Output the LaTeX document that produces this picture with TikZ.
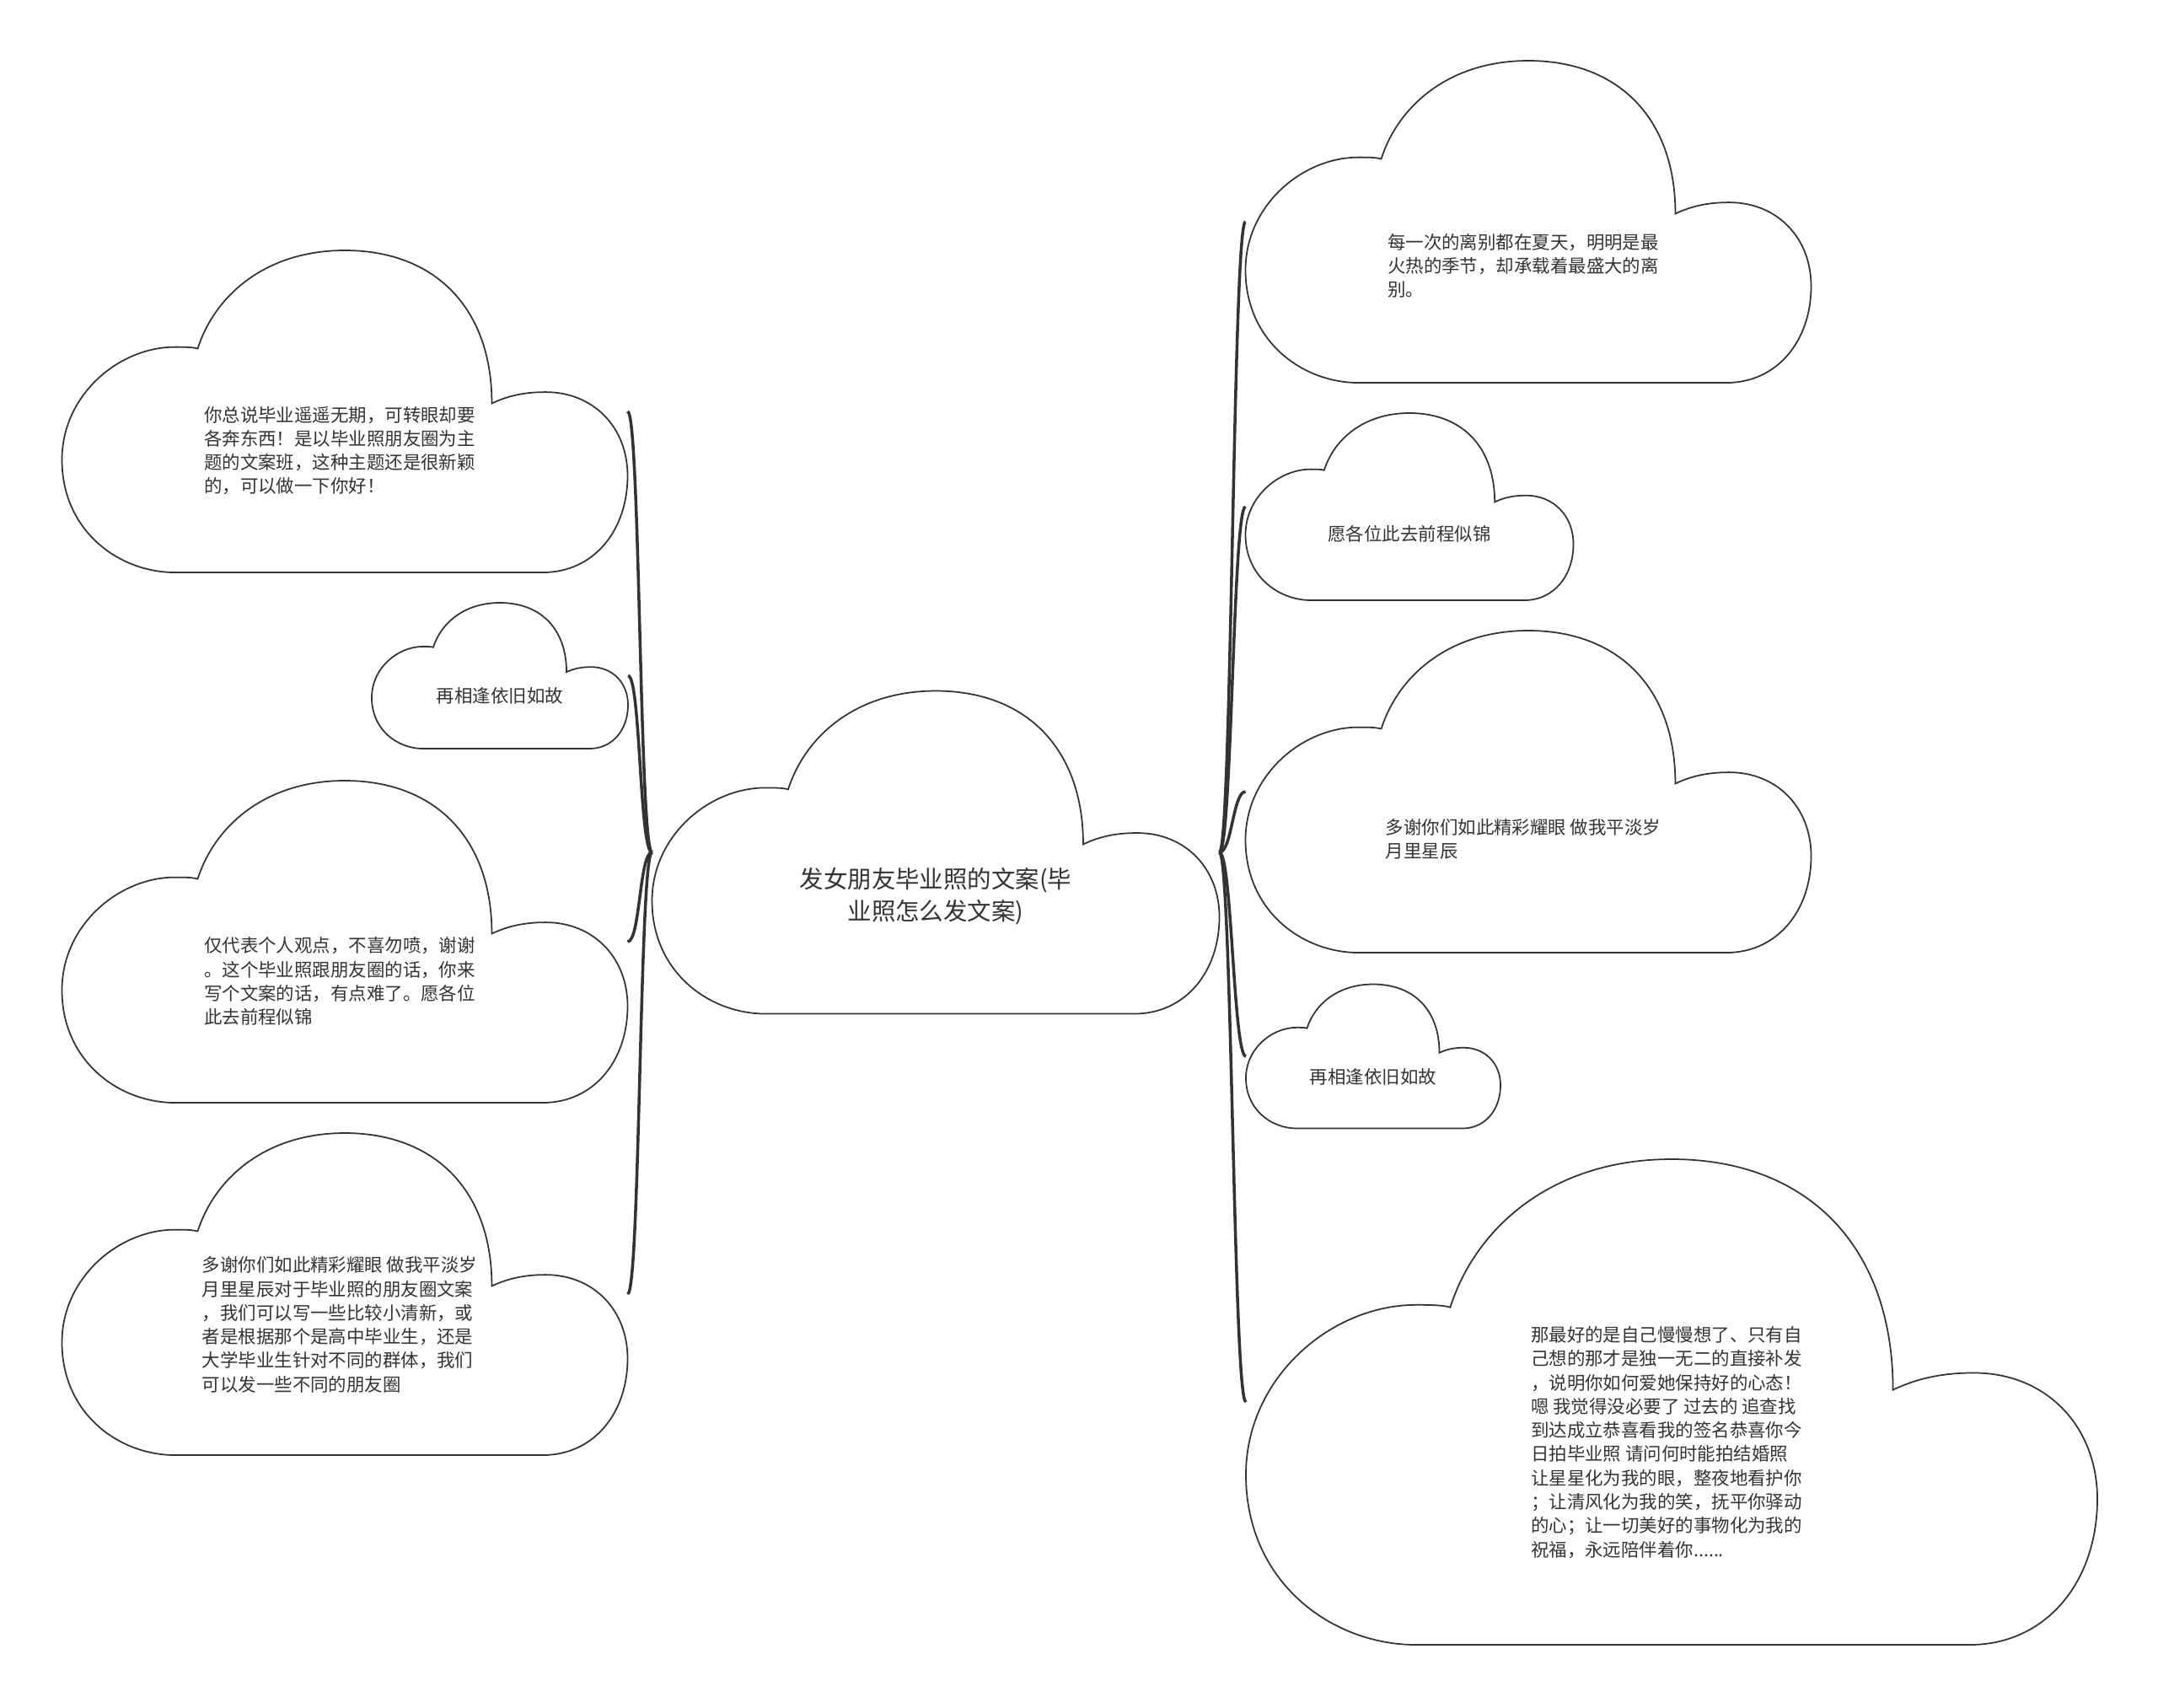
\documentclass[tikz,border=0pt]{standalone}
\usepackage{fontspec}
\setmainfont{Noto Sans CJK SC}
\usetikzlibrary{calc,positioning}

% outline of one cloud in a unit box
\newcommand\cloudshape{(0.2,0) .. controls (0.1,0) and (0,0.13) .. (0,0.35)
  .. controls (0,0.55) and (0.1,0.70) .. (0.2,0.70)
  .. controls (0.215,0.70) and (0.23,0.70) .. (0.24,0.695)
  .. controls (0.27,0.86) and (0.36,1) .. (0.5,1)
  .. controls (0.66,1) and (0.76,0.82) .. (0.76,0.525)
  .. controls (0.79,0.55) and (0.82,0.56) .. (0.855,0.56)
  .. controls (0.94,0.56) and (1,0.45) .. (1,0.3)
  .. controls (1,0.13) and (0.94,0) .. (0.85,0) -- cycle}

% [text options], name, x, y, width, height, text height, text
\newcommand\cloudnode[8][]{%
  \node[cloudbox, minimum width=#5cm, minimum height=#6cm] (#2) at (#3,#4) {};
  \draw[cloudline, shift={(#2.south west)}, xscale=#5, yscale=#6] \cloudshape;
  \node[cloudtext, #1] (#2t) at ([yshift=#7*#6*1cm]#2.south) {#8};
}

\definecolor{inkgray}{HTML}{333333}

\begin{document}
\begin{tikzpicture}[
    cloudbox/.style={inner sep=0pt, outer sep=0pt},
    cloudline/.style={draw=inkgray, line width=0.5pt, fill=white},
    cloudtext/.style={inner sep=0pt, align=left, text=inkgray,
        font=\fontsize{6.1pt}{8.05pt}\selectfont},
    para/.style={xshift=-0.06cm},
    link/.style={draw=inkgray, line width=1pt}]
    \useasboundingbox (0,0) rectangle (25.6,-20.25);
    \fill[white] (0,0) rectangle (25.6,-20.25);

    \cloudnode{root}{11.10}{-10.11}{6.73}{3.83}{0.363}{}
    \node[cloudtext, align=center, font=\fontsize{8.1pt}{10.8pt}\selectfont]
        (title) at ([yshift=0.363*3.83*1cm]root.south) {发女朋友毕业照的文案(毕\\业照怎么发文案)};

    % left side
    \cloudnode[para]{lone}{4.09}{-4.88}{6.71}{3.82}{0.378}{你总说毕业遥遥无期，可转眼却要\\各奔东西！是以毕业照朋友圈为主\\题的文案班，这种主题还是很新颖\\的，可以做一下你好！}
    \cloudnode{ltwo}{5.93}{-8.015}{3.04}{1.73}{0.364}{再相逢依旧如故}
    \cloudnode[para]{lthree}{4.09}{-11.17}{6.71}{3.82}{0.377}{仅代表个人观点，不喜勿喷，谢谢\\。这个毕业照跟朋友圈的话，你来\\写个文案的话，有点难了。愿各位\\此去前程似锦}
    \cloudnode[para]{lfour}{4.09}{-15.35}{6.71}{3.82}{0.405}{多谢你们如此精彩耀眼 做我平淡岁\\月里星辰对于毕业照的朋友圈文案\\，我们可以写一些比较小清新，或\\者是根据那个是高中毕业生，还是\\大学毕业生针对不同的群体，我们\\可以发一些不同的朋友圈}

    % right side
    \cloudnode[para]{rone}{18.13}{-2.63}{6.71}{3.82}{0.363}{每一次的离别都在夏天，明明是最\\火热的季节，却承载着最盛大的离\\别。}
    \cloudnode{rtwo}{16.72}{-6.01}{3.89}{2.22}{0.356}{愿各位此去前程似锦}
    \cloudnode[para]{rthree}{18.13}{-9.39}{6.71}{3.82}{0.353}{多谢你们如此精彩耀眼 做我平淡岁\\月里星辰}
    \cloudnode{rfour}{16.29}{-12.53}{3.02}{1.71}{0.36}{再相逢依旧如故}
    \cloudnode[para]{rfive}{19.83}{-16.63}{10.10}{5.76}{0.417}{那最好的是自己慢慢想了、只有自\\己想的那才是独一无二的直接补发\\，说明你如何爱她保持好的心态！\\嗯 我觉得没必要了 过去的 追查找\\到达成立恭喜看我的签名恭喜你今\\日拍毕业照 请问何时能拍结婚照\\让星星化为我的眼，整夜地看护你\\；让清风化为我的笑，抚平你驿动\\的心；让一切美好的事物化为我的\\祝福，永远陪伴着你......}

    \draw[link] (root.west) .. controls +(-0.15,0) and +(0.15,0) .. (lone.east);
    \draw[link] (root.west) .. controls +(-0.15,0) and +(0.15,0) .. (ltwo.east);
    \draw[link] (root.west) .. controls +(-0.15,0) and +(0.15,0) .. (lthree.east);
    \draw[link] (root.west) .. controls +(-0.15,0) and +(0.15,0) .. (lfour.east);
    \draw[link] (root.east) .. controls +(0.15,0) and +(-0.15,0) .. (rone.west);
    \draw[link] (root.east) .. controls +(0.15,0) and +(-0.15,0) .. (rtwo.west);
    \draw[link] (root.east) .. controls +(0.15,0) and +(-0.15,0) .. (rthree.west);
    \draw[link] (root.east) .. controls +(0.15,0) and +(-0.15,0) .. (rfour.west);
    \draw[link] (root.east) .. controls +(0.15,0) and +(-0.15,0) .. (rfive.west);
\end{tikzpicture}
\end{document}
